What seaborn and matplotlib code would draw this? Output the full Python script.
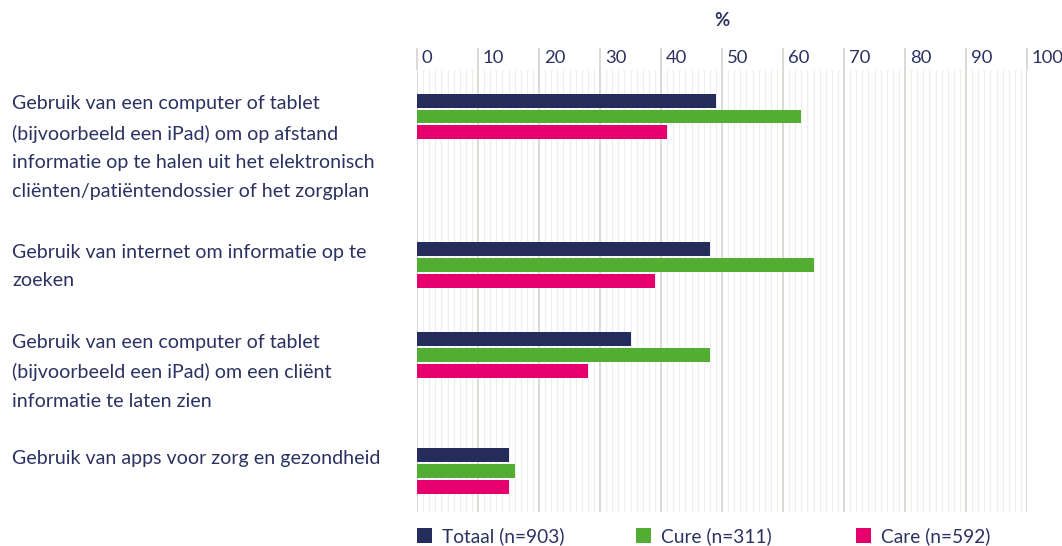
import numpy as np
import pandas as pd
import matplotlib
matplotlib.use("Agg")
import matplotlib.pyplot as plt
from matplotlib.transforms import blended_transform_factory, ScaledTranslation
import seaborn as sns

# --- data -------------------------------------------------------------
activities = [
    "Gebruik van een computer of tablet\n(bijvoorbeeld een iPad) om op afstand\n"
    "informatie op te halen uit het elektronisch\ncliënten/patiëntendossier of het zorgplan",
    "Gebruik van internet om informatie op te\nzoeken",
    "Gebruik van een computer of tablet\n(bijvoorbeeld een iPad) om een cliënt\ninformatie te laten zien",
    "Gebruik van apps voor zorg en gezondheid",
]
series = ["Totaal (n=903)", "Cure (n=311)", "Care (n=592)"]
totaal = [49, 48, 35, 15]
cure = [63, 65, 48, 16]
care = [41, 39, 28, 15]
x_ticks = [0, 10, 20, 30, 40, 50, 60, 70, 80, 90, 100]

# --- styling ----------------------------------------------------------
colors = ["#232c5a", "#52ae32", "#e5006e"]
text_color = "#2b3262"
major_grid = "#ddd8d3"
minor_grid = "#f0edea"

sns.set_theme(style="white")
plt.rcParams["font.family"] = ["Lato", "DejaVu Sans"]
FS_LABEL = 14.1
FS_TICK = 13.3
FS_LEGEND = 13.8

W, H = 1062, 546
fig = plt.figure(figsize=(W / 100, H / 100), dpi=100)

# axes placed in pixel terms: x 417..1027, y 70..512
ax_left, ax_right, ax_top, ax_bot = 417, 1027, 70, 512
ax = fig.add_axes([ax_left / W, 1 - ax_bot / H, (ax_right - ax_left) / W, (ax_bot - ax_top) / H])

# vertical centre of each group of bars (y runs in pixel units, top to bottom)
group_centres = [116.5, 265, 355, 471]

df = pd.DataFrame({
    "pos": np.repeat(group_centres, 3),
    "series": series * len(group_centres),
    "value": np.ravel(np.column_stack([totaal, cure, care])),
})

sns.barplot(
    data=df, x="value", y="pos", hue="series", hue_order=series,
    orient="h", native_scale=True, width=47 / 90, gap=0.11,
    palette=colors, saturation=1, linewidth=0, legend=True, ax=ax,
)

ax.set_xlim(0, 100)
ax.set_ylim(ax_bot, ax_top)
ax.set_xlabel("")
ax.set_ylabel("")
ax.set_yticks([])
for s in ax.spines.values():
    s.set_visible(False)

# grid: major every 10, minor every 1
ax.set_xticks(x_ticks)
ax.set_xticks([v for v in range(0, 101) if v % 10], minor=True)
ax.set_axisbelow(True)
ax.grid(which="major", axis="x", color=major_grid, linewidth=1.4)
ax.grid(which="minor", axis="x", color=minor_grid, linewidth=0.9)
ax.tick_params(axis="x", which="major", top=True, bottom=False, labeltop=False,
               labelbottom=False, direction="out", length=16, width=1.4, color=major_grid)
ax.tick_params(axis="x", which="minor", top=False, bottom=False)

# tick labels sit to the right of each major line
trans = blended_transform_factory(ax.transData, fig.transFigure) + \
    ScaledTranslation(5 / 100, 0, fig.dpi_scale_trans)
for v in x_ticks:
    ax.text(v, 1 - 58 / H, str(v), transform=trans, ha="left", va="center",
            fontsize=FS_TICK, color=text_color)

fig.text((ax_left + ax_right) / 2 / W, 1 - 21 / H, "%", ha="center", va="center",
         fontsize=FS_TICK, fontweight="bold", color=text_color)

# category labels, top aligned with their group of bars
for label, yc in zip(activities, group_centres):
    fig.text(12 / W, 1 - (yc - 23.5 + 2.5) / H, label, ha="left", va="top",
             fontsize=FS_LABEL, color=text_color, linespacing=1.82)

# legend: one entry per series along the bottom
handles, labels = ax.get_legend_handles_labels()
ax.get_legend().remove()
for h, l, xp in zip(handles, labels, [417, 636, 856]):
    fig.legend([h], [l], loc="center left", bbox_to_anchor=(xp / W, 1 - 536 / H),
               frameon=False, fontsize=FS_LEGEND, handlelength=0.8, handleheight=0.8,
               handletextpad=0.5, borderpad=0, borderaxespad=0, labelcolor=text_color)

fig.savefig("out.png", dpi=100)
